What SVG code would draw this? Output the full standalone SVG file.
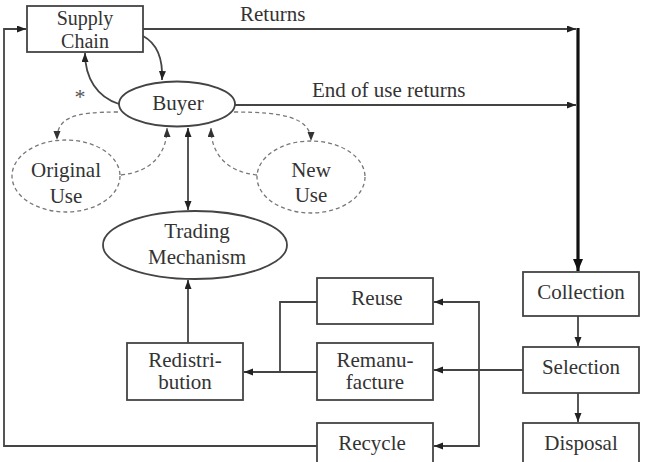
<svg xmlns="http://www.w3.org/2000/svg" width="647" height="462" viewBox="0 0 647 462">
<defs>
<style>
.box{fill:#fff;stroke:#444;stroke-width:1.8}
.ell{fill:#fff;stroke:#444;stroke-width:1.8}
.dell{fill:#fff;stroke:#777;stroke-width:1.3;stroke-dasharray:4 3}
.t{font-family:"Liberation Serif","Times New Roman",serif;font-size:21px;fill:#333;text-anchor:middle}
.tl{font-family:"Liberation Serif","Times New Roman",serif;font-size:21px;fill:#333}
.c{fill:none;stroke:#444;stroke-width:1.8}
.d{fill:none;stroke:#777;stroke-width:1.3;stroke-dasharray:4 3}
.thick{fill:none;stroke:#111;stroke-width:3.2}
</style>
<marker id="a" markerUnits="userSpaceOnUse" markerWidth="10" markerHeight="8" refX="9" refY="3.5" orient="auto-start-reverse"><path d="M0,0 L9,3.5 L0,7 z" fill="#222"/></marker>
<marker id="ab" markerUnits="userSpaceOnUse" markerWidth="13" markerHeight="11" refX="12" refY="5" orient="auto"><path d="M0,0 L12,5 L0,10 z" fill="#111"/></marker>
<marker id="ad" markerUnits="userSpaceOnUse" markerWidth="10" markerHeight="8" refX="9" refY="3.5" orient="auto"><path d="M0,0 L9,3.5 L0,7 z" fill="#333"/></marker>
</defs>

<g id="connectors">
<path class="c" d="M143,29 H576" marker-end="url(#a)"/>
<path class="c" d="M235,105 H576" marker-end="url(#a)"/>
<path class="thick" d="M578,28 V271" marker-end="url(#ab)"/>
<path class="c" d="M143,36 C158,44 163,60 162,80" marker-end="url(#a)"/>
<path class="c" d="M119,104 C97,97 85,78 85,53" marker-end="url(#a)"/>
<path class="d" d="M118,112 C72,112 57,118 57,140" marker-end="url(#ad)"/>
<path class="d" d="M121,175 C150,172 167,155 167,128" marker-end="url(#ad)"/>
<path class="d" d="M257,175 C228,172 211,155 211,128" marker-end="url(#ad)"/>
<path class="d" d="M234,112 C282,112 311,117 311,141" marker-end="url(#ad)"/>
<path class="c" d="M188,128 V210" marker-start="url(#a)" marker-end="url(#a)"/>
<path class="c" d="M188,343 V280" marker-end="url(#a)"/>
<path class="c" d="M578,316 V346" marker-end="url(#a)"/>
<path class="c" d="M578,393 V422" marker-end="url(#a)"/>
<path class="c" d="M523,370 H434" marker-end="url(#a)"/>
<path class="c" d="M434,302 H479 V446 H434" marker-start="url(#a)" marker-end="url(#a)"/>
<path class="c" d="M317,302 H280 V372"/>
<path class="c" d="M317,372 H244" marker-end="url(#a)"/>
<path class="c" d="M317,446 H4 V29 H26" marker-end="url(#a)"/>
</g>

<text class="tl" x="240" y="21">Returns</text>
<text class="tl" x="312" y="97">End of use returns</text>
<text class="t" x="80" y="104" style="fill:#555;font-size:22px">*</text>

<g id="supply-chain">
<rect class="box" x="27" y="6" width="116" height="46"/>
<text class="t" x="85" y="25" style="font-size:20px">Supply</text>
<text class="t" x="85" y="48" style="font-size:20px">Chain</text>
</g>
<g id="buyer">
<ellipse class="ell" cx="177" cy="104" rx="58" ry="22.5"/>
<text class="t" x="178" y="110">Buyer</text>
</g>
<g id="original-use">
<ellipse class="dell" cx="66" cy="176" rx="54" ry="36"/>
<text class="t" x="66" y="177">Original</text>
<text class="t" x="66" y="203">Use</text>
</g>
<g id="new-use">
<ellipse class="dell" cx="311" cy="177" rx="54" ry="36"/>
<text class="t" x="311" y="177">New</text>
<text class="t" x="311" y="202">Use</text>
</g>
<g id="trading-mechanism">
<ellipse class="ell" cx="195" cy="245" rx="92" ry="34"/>
<text class="t" x="197" y="238">Trading</text>
<text class="t" x="197" y="264">Mechanism</text>
</g>
<g id="redistribution">
<rect class="box" x="127" y="343" width="116" height="57"/>
<text class="t" x="185" y="367">Redistri-</text>
<text class="t" x="185" y="389">bution</text>
</g>
<g id="reuse">
<rect class="box" x="317" y="278" width="116" height="46"/>
<text class="t" x="377" y="305">Reuse</text>
</g>
<g id="remanufacture">
<rect class="box" x="317" y="343" width="116" height="57"/>
<text class="t" x="375" y="367">Remanu-</text>
<text class="t" x="375" y="389">facture</text>
</g>
<g id="recycle">
<rect class="box" x="317" y="423" width="116" height="46"/>
<text class="t" x="372" y="450">Recycle</text>
</g>
<g id="collection">
<rect class="box" x="523" y="272" width="116" height="44"/>
<text class="t" x="581" y="299">Collection</text>
</g>
<g id="selection">
<rect class="box" x="523" y="347" width="116" height="46"/>
<text class="t" x="581" y="374">Selection</text>
</g>
<g id="disposal">
<rect class="box" x="523" y="423" width="116" height="46"/>
<text class="t" x="581" y="450">Disposal</text>
</g>
</svg>
